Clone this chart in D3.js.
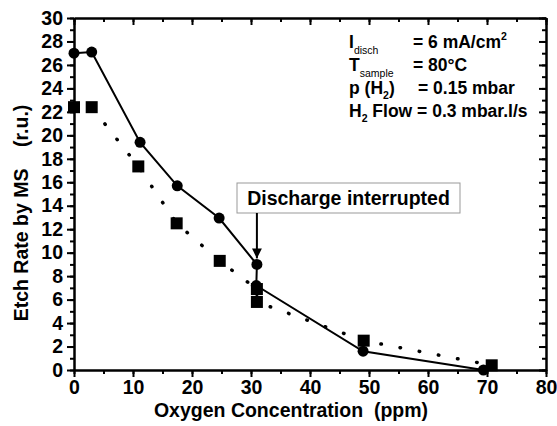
<!DOCTYPE html>
<html>
<head>
<meta charset="utf-8">
<script src="https://cdn.jsdelivr.net/npm/d3@7"></script>
<style>
  body { margin: 0; background: #fff; }
  text { font-family: "Liberation Sans", Arial, sans-serif; font-weight: bold; fill: #000; }
</style>
</head>
<body>
<div id="chart"></div>
<script>
// data
let circleX = [0, 3, 11.2, 17.5, 24.6, 31, 30.9, 49, 69.4];
let circleY = [27.0, 27.1, 19.4, 15.7, 12.95, 9.0, 7.2, 1.6, 0];
let squareX = [0, 3, 10.9, 17.4, 24.7, 31, 31, 49.1, 70.8];
let squareY = [22.4, 22.4, 17.35, 12.5, 9.3, 6.9, 5.8, 2.5, 0.4];
let xTicks = [0, 10, 20, 30, 40, 50, 60, 70, 80];
let yTicks = [0, 2, 4, 6, 8, 10, 12, 14, 16, 18, 20, 22, 24, 26, 28, 30];
let arrowAt = {x: 31, y: 9.0};

let W = 557, H = 426;
let margin = {top: 18, right: 11, bottom: 56, left: 74};
let width = W - margin.left - margin.right;
let height = H - margin.top - margin.bottom;
let fs = '19.5px';

let svg = d3.select('#chart')
  .append('svg')
    .attr('width', W)
    .attr('height', H)
  .append('g')
    .attr('transform', 'translate(' + margin.left + ',' + margin.top + ')');

let x = d3.scaleLinear().domain([0, 80]).range([0, width]);
let y = d3.scaleLinear().domain([0, 30]).range([height, 0]);

let minorX = d3.range(0, 81, 5);
let minorY = d3.range(0, 31, 1);

// bottom axis: labels + outward ticks
svg.append('g')
  .attr('transform', 'translate(0,' + height + ')')
  .call(d3.axisBottom(x).tickValues(xTicks).tickSize(7).tickSizeOuter(0).tickPadding(3));
svg.append('g')
  .attr('transform', 'translate(0,' + height + ')')
  .call(d3.axisBottom(x).tickValues(minorX).tickSize(4).tickSizeOuter(0).tickFormat(''));

// left axis
svg.append('g')
  .call(d3.axisLeft(y).tickValues(yTicks).tickSize(7).tickSizeOuter(0).tickPadding(4));
svg.append('g')
  .call(d3.axisLeft(y).tickValues(minorY).tickSize(4).tickSizeOuter(0).tickFormat(''));

// top and right mirror axes, ticks inward
svg.append('g')
  .call(d3.axisTop(x).tickValues(xTicks).tickSize(-7).tickSizeOuter(0).tickFormat(''));
svg.append('g')
  .call(d3.axisTop(x).tickValues(minorX).tickSize(-4).tickSizeOuter(0).tickFormat(''));
svg.append('g')
  .attr('transform', 'translate(' + width + ',0)')
  .call(d3.axisRight(y).tickValues(yTicks).tickSize(-7).tickSizeOuter(0).tickFormat(''));
svg.append('g')
  .attr('transform', 'translate(' + width + ',0)')
  .call(d3.axisRight(y).tickValues(minorY).tickSize(-4).tickSizeOuter(0).tickFormat(''));

svg.selectAll('.domain').attr('stroke', '#000').attr('stroke-width', 2);
svg.selectAll('.tick line').attr('stroke', '#000').attr('stroke-width', 2);
svg.selectAll('.tick text')
  .style('font-size', fs)
  .style('font-family', '"Liberation Sans", Arial, sans-serif')
  .style('font-weight', 'bold')
  .attr('fill', '#000');

// lines
let circles = circleX.map((v, i) => ({x: v, y: circleY[i]}));
let squares = squareX.map((v, i) => ({x: v, y: squareY[i]}));
let line = d3.line().x(d => x(d.x)).y(d => y(d.y));

svg.append('path')
  .datum(squares)
  .attr('d', line)
  .attr('fill', 'none')
  .attr('stroke', '#000')
  .attr('stroke-width', 3.5)
  .attr('stroke-linecap', 'round')
  .attr('stroke-dasharray', '0.5,19');

svg.append('path')
  .datum(circles)
  .attr('d', line)
  .attr('fill', 'none')
  .attr('stroke', '#000')
  .attr('stroke-width', 2);

// markers
svg.append('g')
  .selectAll('rect')
  .data(squares)
  .enter()
  .append('rect')
    .attr('x', d => x(d.x) - 6)
    .attr('y', d => y(d.y) - 6)
    .attr('width', 12)
    .attr('height', 12)
    .attr('fill', '#000');

svg.append('g')
  .selectAll('circle')
  .data(circles)
  .enter()
  .append('circle')
    .attr('cx', d => x(d.x))
    .attr('cy', d => y(d.y))
    .attr('r', 5.5)
    .attr('fill', '#000');

// annotation box and arrow
let boxX = 237 - margin.left, boxY = 183 - margin.top;
svg.append('rect')
  .attr('x', boxX)
  .attr('y', boxY)
  .attr('width', 223)
  .attr('height', 30)
  .attr('fill', '#fff')
  .attr('stroke', '#999')
  .attr('stroke-width', 1);
svg.append('text')
  .attr('x', boxX + 111.5)
  .attr('y', boxY + 22)
  .attr('text-anchor', 'middle')
  .style('font-size', fs)
  .text('Discharge interrupted');

svg.append('defs').append('marker')
  .attr('id', 'arr')
  .attr('viewBox', '0 0 10 10')
  .attr('refX', 10).attr('refY', 5)
  .attr('markerWidth', 5).attr('markerHeight', 5)
  .attr('markerUnits', 'strokeWidth')
  .attr('orient', 'auto')
  .append('path')
    .attr('d', 'M0,0 L10,5 L0,10 Z')
    .attr('fill', '#000');
svg.append('line')
  .attr('x1', x(arrowAt.x)).attr('y1', boxY + 30)
  .attr('x2', x(arrowAt.x)).attr('y2', y(arrowAt.y) - 6)
  .attr('stroke', '#000')
  .attr('stroke-width', 2)
  .attr('marker-end', 'url(#arr)');

// condition text, top right
let cond = svg.append('g').style('font-size', '17.5px');
let tx = 349 - margin.left, eqx = 413 - margin.left;
let rows = [48, 71, 94, 117].map(v => v - margin.top);

let t1 = cond.append('text').attr('x', tx).attr('y', rows[0]);
t1.append('tspan').text('I');
t1.append('tspan').attr('dy', 6).style('font-size', '10.5px').style('font-weight', 'normal').text('disch');
cond.append('text').attr('x', eqx).attr('y', rows[0]).text('= 6 mA/cm')
  .append('tspan').attr('dy', -8).style('font-size', '10.5px').text('2');

let t2 = cond.append('text').attr('x', tx).attr('y', rows[1]);
t2.append('tspan').text('T');
t2.append('tspan').attr('dy', 6).style('font-size', '10.5px').style('font-weight', 'normal').text('sample');
cond.append('text').attr('x', eqx).attr('y', rows[1]).text('= 80°C');

let t3 = cond.append('text').attr('x', tx).attr('y', rows[2]);
t3.append('tspan').text('p (H');
t3.append('tspan').attr('dy', 5).style('font-size', '10.5px').text('2');
t3.append('tspan').attr('dy', -5).text(')');
cond.append('text').attr('x', 418 - margin.left).attr('y', rows[2]).text('= 0.15 mbar');

let t4 = cond.append('text').attr('x', tx).attr('y', rows[3]);
t4.append('tspan').text('H');
t4.append('tspan').attr('dy', 5).style('font-size', '10.5px').text('2');
t4.append('tspan').attr('dy', -5).text(' Flow = 0.3 mbar.l/s');

// axis labels
svg.append('text')
  .attr('x', 291 - margin.left)
  .attr('y', height + 47)
  .attr('text-anchor', 'middle')
  .style('font-size', fs)
  .style('white-space', 'pre')
  .text('Oxygen Concentration  (ppm)');

svg.append('text')
  .attr('transform', 'rotate(-90)')
  .attr('x', -(213 - margin.top))
  .attr('y', 28 - margin.left)
  .attr('text-anchor', 'middle')
  .style('font-size', fs)
  .style('white-space', 'pre')
  .text('Etch Rate by MS    (r.u.)');
</script>
</body>
</html>
